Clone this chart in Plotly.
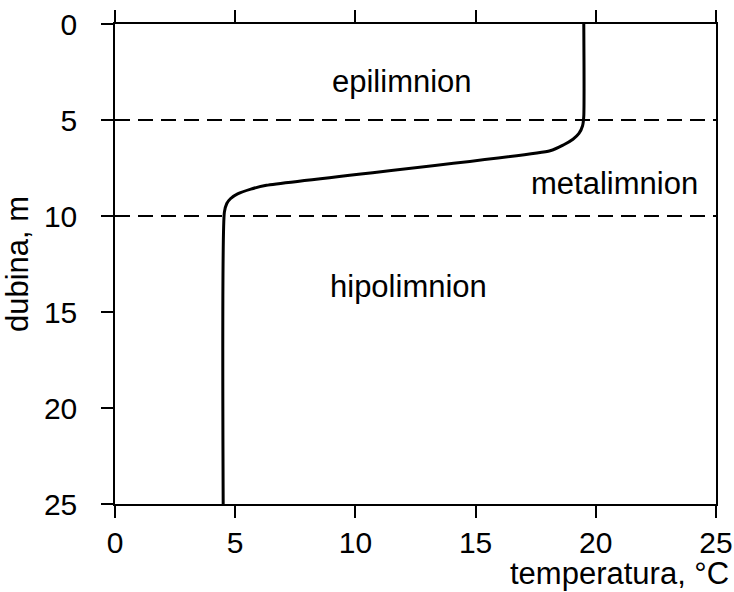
import plotly.graph_objects as go

# Temperature profile (temperature in °C vs depth in m)
depth = [0, 4.8, 5.3, 5.7, 6.0, 6.3, 6.6, 8.4, 8.6, 8.85, 9.1, 9.35, 9.8, 25]
temp = [19.5, 19.5, 19.45, 19.3, 19.05, 18.65, 18.1, 6.3, 5.65, 5.1, 4.8, 4.65, 4.55, 4.5]

layer_bounds = [5, 10]
layer_names = ["epilimnion", "metalimnion", "hipolimnion"]
layer_label_x = [11.95, 20.77, 12.22]
layer_label_y = [3.02, 8.33, 13.65]

x_ticks = [0, 5, 10, 15, 20, 25]
y_ticks = [0, 5, 10, 15, 20, 25]

FONT = "Liberation Sans, Arial, sans-serif"
TXT = 31
TICK = 30

fig = go.Figure()

for b in layer_bounds:
    fig.add_trace(go.Scatter(x=[0, 25], y=[b, b], mode="lines",
                             line=dict(color="black", width=2, dash="15px,8px"),
                             hoverinfo="skip", showlegend=False))

fig.add_trace(go.Scatter(x=temp, y=depth, mode="lines",
                         line=dict(color="black", width=3, shape="spline", smoothing=0.6),
                         showlegend=False))

for name, lx, ly in zip(layer_names, layer_label_x, layer_label_y):
    fig.add_annotation(x=lx, y=ly, text=name, showarrow=False,
                       font=dict(size=TXT, color="black", family=FONT))

fig.add_annotation(xref="paper", yref="paper", x=1, y=0, xanchor="right", yanchor="middle",
                   xshift=15, yshift=-69, text="temperatura, °C", showarrow=False,
                   font=dict(size=TXT, color="black", family=FONT))

fig.update_xaxes(range=[0, 25], tickvals=x_ticks, ticks="outside", ticklen=12,
                 tickwidth=1.5, tickcolor="black", showline=True, linecolor="black",
                 linewidth=1.5, mirror="ticks", showgrid=False, zeroline=False,
                 ticklabelstandoff=-1, automargin=False, ticklabeloverflow="allow",
                 tickfont=dict(size=TICK, color="black", family=FONT))
fig.update_yaxes(range=[25, 0], tickvals=y_ticks, ticks="outside", ticklen=12,
                 tickwidth=1.5, tickcolor="black", showline=True, linecolor="black",
                 linewidth=1.5, mirror=True, showgrid=False, zeroline=False,
                 ticklabelstandoff=18, automargin=False, ticklabeloverflow="allow",
                 title=dict(text="dubina, m", standoff=11,
                            font=dict(size=TXT, color="black", family=FONT)),
                 tickfont=dict(size=TICK, color="black", family=FONT))

fig.update_layout(width=734, height=592, margin=dict(l=115, r=18, t=24, b=88),
                  plot_bgcolor="white", paper_bgcolor="white",
                  font=dict(family=FONT, color="black"))

# remove the default 8px page margin so the figure fills the window exactly
fig.write_html("out.html", config={"displayModeBar": False},
               post_script="document.body.style.margin='0';document.body.style.overflow='hidden';")
